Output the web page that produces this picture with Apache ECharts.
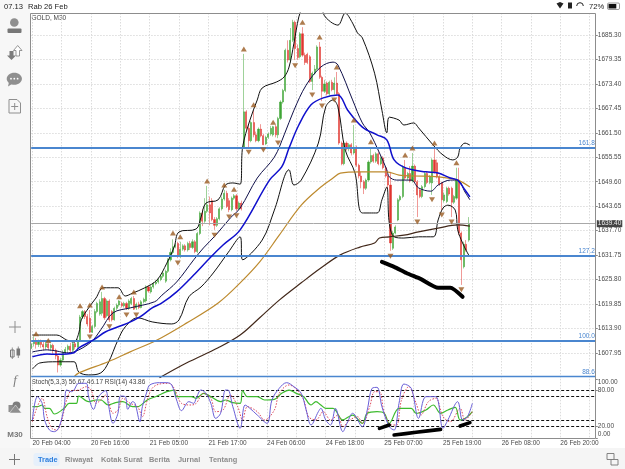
<!DOCTYPE html>
<html>
<head>
<meta charset="utf-8">
<title>GOLD M30</title>
<script src="https://cdn.jsdelivr.net/npm/echarts@6/dist/echarts.min.js"></script>
<style>html,body{margin:0;padding:0;background:#fff}#c{width:625px;height:469px}</style>
</head>
<body>
<div id="c"></div>
<script>
// GOLD, M30 bars: [open, close, low, high]
const candles = [
[1609.0,1610.2,1608.5,1610.8],[1610.2,1611.0,1609.5,1612.0],[1611.0,1610.0,1609.0,1611.6],[1610.0,1610.8,1609.4,1611.2],
[1610.8,1610.0,1609.2,1611.2],[1610.0,1609.4,1608.6,1610.6],[1609.4,1610.2,1608.8,1610.6],[1610.2,1609.2,1608.6,1610.4],
[1609.2,1609.8,1608.4,1610.2],[1609.8,1608.6,1607.8,1610.2],[1608.6,1607.2,1606.4,1609.0],[1607.2,1605.0,1603.2,1607.6],
[1605.0,1606.2,1604.6,1606.8],[1606.2,1608.0,1605.8,1608.6],[1608.0,1608.8,1607.6,1609.4],[1608.8,1609.6,1608.2,1610.0],
[1609.6,1608.6,1608.0,1610.4],[1608.6,1610.2,1608.2,1610.8],[1610.2,1609.4,1608.8,1610.6],[1609.4,1611.0,1609.0,1611.4],
[1611.0,1616.7,1610.6,1617.2],[1616.7,1618.0,1616.2,1618.4],[1618.0,1616.8,1616.2,1618.4],[1616.8,1615.0,1614.4,1617.4],
[1616.4,1613.0,1612.8,1618.4],[1613.0,1614.4,1612.8,1614.8],[1614.4,1618.0,1614.0,1618.6],[1618.0,1620.0,1617.6,1620.4],
[1617.4,1620.4,1617.0,1621.0],[1617.6,1621.2,1617.0,1622.8],[1621.2,1616.5,1616.0,1621.6],[1617.0,1620.6,1616.6,1621.0],
[1620.6,1616.0,1615.5,1621.0],[1618.0,1616.0,1615.6,1618.4],[1616.0,1618.8,1615.8,1619.2],[1618.8,1619.6,1618.4,1620.0],
[1619.6,1620.6,1619.2,1620.8],[1620.0,1619.4,1619.0,1620.4],[1619.4,1620.0,1619.0,1620.4],[1620.0,1618.8,1618.4,1620.4],
[1618.8,1620.6,1618.4,1621.0],[1620.0,1621.2,1619.6,1621.6],[1621.2,1618.6,1618.4,1621.8],[1618.9,1619.8,1618.4,1620.2],
[1619.8,1619.0,1618.6,1620.4],[1619.0,1620.4,1618.8,1620.8],[1620.4,1621.0,1620.0,1621.4],[1620.6,1624.0,1620.2,1624.4],
[1624.0,1623.0,1622.6,1624.4],[1622.8,1624.0,1622.4,1624.4],[1624.0,1624.8,1623.6,1625.2],[1624.8,1625.2,1624.4,1625.6],
[1625.2,1625.8,1624.8,1626.2],[1625.8,1626.6,1625.4,1627.0],[1626.6,1627.4,1626.2,1627.8],[1625.4,1627.8,1625.0,1628.2],
[1627.8,1630.6,1627.4,1631.0],[1630.6,1632.4,1630.2,1633.4],[1632.4,1633.8,1632.0,1635.6],[1633.8,1634.2,1633.4,1634.6],
[1634.6,1631.6,1631.0,1635.0],[1631.6,1633.2,1631.0,1635.0],[1633.2,1634.0,1632.8,1634.4],[1634.0,1633.0,1632.6,1634.4],
[1633.0,1634.6,1632.6,1635.0],[1634.6,1633.6,1633.0,1635.2],[1633.6,1635.0,1633.2,1635.6],[1635.0,1632.6,1632.2,1635.4],
[1632.6,1637.0,1632.2,1637.4],[1637.0,1642.0,1636.6,1642.4],[1642.0,1640.0,1638.8,1643.0],[1640.0,1642.4,1639.6,1645.6],
[1642.4,1644.0,1642.0,1648.6],[1644.0,1642.0,1639.0,1646.0],[1645.0,1640.4,1640.0,1645.6],[1640.4,1639.0,1637.9,1641.0],
[1639.0,1640.6,1638.6,1641.0],[1640.6,1643.0,1640.2,1643.4],[1643.0,1645.4,1642.6,1646.0],[1645.4,1646.8,1645.0,1647.6],
[1646.8,1643.6,1643.2,1647.4],[1645.0,1642.8,1642.2,1645.6],[1642.8,1645.6,1642.4,1646.0],[1645.6,1646.2,1645.2,1646.6],
[1646.2,1643.0,1642.5,1646.6],[1643.0,1644.4,1642.6,1644.8],[1644.4,1643.0,1642.6,1645.0],[1658.0,1666.6,1657.6,1680.7],
[1666.6,1662.6,1662.0,1667.0],[1662.6,1659.6,1658.0,1663.4],[1659.6,1664.0,1659.2,1664.4],[1664.0,1661.0,1660.4,1667.0],
[1661.0,1659.6,1659.2,1661.8],[1659.6,1662.4,1659.2,1662.8],[1662.4,1660.8,1660.4,1663.6],[1660.8,1658.6,1658.5,1661.2],
[1658.8,1660.4,1658.5,1660.8],[1660.4,1661.2,1660.0,1661.6],[1661.2,1662.6,1660.8,1663.2],[1661.0,1663.0,1660.6,1663.2],
[1663.0,1661.0,1660.4,1663.4],[1661.0,1665.0,1660.2,1665.4],[1665.0,1669.0,1664.6,1669.4],[1669.0,1671.8,1668.6,1672.2],
[1671.8,1681.6,1671.4,1682.0],[1681.6,1679.2,1678.6,1684.0],[1679.2,1684.0,1678.6,1687.0],[1684.0,1688.4,1683.6,1689.0],
[1688.4,1682.0,1679.2,1688.8],[1682.0,1679.8,1679.2,1683.0],[1680.0,1685.6,1679.6,1686.0],[1685.6,1680.4,1680.0,1687.2],
[1680.4,1678.6,1678.0,1681.0],[1680.6,1678.6,1678.2,1681.0],[1680.0,1674.0,1673.6,1680.4],[1674.0,1676.0,1671.9,1676.4],
[1676.0,1677.0,1675.6,1678.0],[1677.0,1682.4,1676.6,1682.8],[1682.4,1675.0,1674.6,1683.6],[1675.0,1671.6,1669.2,1675.4],
[1671.6,1673.4,1671.2,1674.4],[1673.6,1671.0,1670.6,1674.0],[1671.0,1673.8,1670.6,1674.2],[1673.8,1672.0,1671.6,1674.4],
[1672.0,1673.6,1670.8,1675.0],[1673.6,1671.0,1670.6,1676.3],[1671.0,1659.0,1658.6,1671.4],[1659.0,1654.0,1653.6,1659.4],
[1654.0,1659.0,1653.6,1659.4],[1659.0,1657.6,1657.2,1659.4],[1657.6,1658.6,1657.0,1659.0],[1658.6,1656.6,1656.0,1659.0],
[1656.6,1658.0,1656.2,1663.4],[1658.0,1653.6,1653.2,1658.4],[1653.6,1651.0,1650.4,1654.0],[1651.0,1649.6,1648.0,1652.0],
[1649.6,1648.0,1646.6,1650.0],[1648.0,1650.0,1647.6,1650.4],[1650.0,1654.4,1649.6,1654.8],[1654.4,1656.0,1654.0,1658.0],
[1656.0,1654.6,1654.2,1656.4],[1654.6,1656.4,1654.2,1656.8],[1656.4,1654.0,1653.6,1656.8],[1654.0,1655.4,1653.6,1655.8],
[1655.4,1653.0,1652.6,1655.8],[1653.0,1651.0,1650.6,1653.4],[1651.0,1648.8,1647.4,1651.4],[1648.8,1634.7,1632.8,1652.0],
[1633.4,1637.1,1633.0,1637.6],[1637.1,1638.6,1636.8,1639.0],[1640.3,1645.2,1640.0,1645.6],[1645.2,1646.0,1644.8,1646.4],
[1646.0,1653.2,1645.6,1653.6],[1653.0,1650.5,1650.0,1654.9],[1650.5,1651.6,1650.0,1652.0],[1651.6,1649.8,1649.4,1653.4],
[1649.8,1653.4,1649.4,1656.6],[1653.4,1649.6,1649.2,1653.8],[1649.6,1646.4,1641.0,1650.0],[1647.6,1646.0,1645.6,1648.0],
[1646.0,1648.4,1645.6,1648.8],[1648.4,1651.6,1648.0,1652.0],[1651.6,1649.4,1649.0,1652.0],[1649.4,1650.8,1649.0,1651.2],
[1649.3,1654.9,1646.4,1655.3],[1654.9,1652.0,1651.6,1657.8],[1654.2,1650.8,1650.4,1655.0],[1650.8,1649.0,1648.6,1651.2],
[1649.3,1645.2,1642.7,1649.6],[1645.0,1646.4,1644.6,1647.0],[1644.8,1648.0,1644.4,1648.4],[1648.0,1646.6,1646.2,1648.4],
[1648.0,1644.6,1641.0,1648.4],[1644.6,1646.0,1644.2,1646.4],[1645.6,1650.0,1645.2,1653.0],[1650.0,1637.1,1636.6,1653.0],
[1637.1,1630.6,1624.5,1637.5],[1628.9,1634.4,1628.5,1635.0],[1634.4,1633.0,1632.6,1635.4],[1635.4,1639.4,1635.0,1641.0]
];

// Williams fractals, as [bar, price]
const fractalsUp = [[2,1612.6],[7,1611.0],[20,1619.4],[24,1619.6],[29,1624.0],[36,1621.6],[42,1622.8],[58,1637.1],[61,1636.2],[72,1649.8],[79,1648.8],[83,1647.8],[87,1681.9],[91,1668.3],[99,1664.1],[111,1688.4],[118,1684.8],[125,1677.5],[132,1664.6],[139,1659.3],[153,1656.1],[156,1657.8],[165,1659.0],[174,1654.2]];
const fractalsDown = [[24,1611.8],[32,1614.3],[39,1617.2],[43,1617.2],[60,1629.8],[75,1636.6],[81,1641.0],[84,1641.3],[89,1656.8],[95,1657.3],[101,1659.0],[108,1677.8],[115,1670.7],[119,1668.0],[124,1669.5],[147,1631.5],[158,1639.8],[164,1645.2],[168,1641.5],[172,1639.8],[176,1623.3]];

// Bollinger bands and moving averages, read at turning points as [bar, price]
const upperBand = [[0,1612.3],[10,1612.3],[14,1611.1],[17,1610.6],[19,1612.8],[20,1616],[23,1618.9],[26,1621.3],[29,1623.8],[35,1623.8],[38,1621.8],[41,1622.5],[46,1623.8],[51,1625.7],[55,1629.8],[58,1633.7],[60,1637.4],[67,1638.1],[69,1641],[71,1644.4],[76,1645.2],[79,1648.8],[82,1649.3],[85,1649],[86,1658],[89,1664.6],[92,1669.5],[94,1672.4],[100,1673.9],[103,1675.1],[105,1677.5],[107,1683.3],[109,1689.7],[111,1693.3],[113,1698],[116,1700],[119,1690.6],[122,1688.5],[125,1687.7],[128,1690.6],[131,1688.2],[133,1685.8],[135,1684.6],[140,1676],[143,1667],[145,1661.5],[146,1665.3],[150,1664.6],[152,1663.4],[156,1663.9],[158,1662.7],[164,1658.5],[168,1656.1],[172,1654.9],[174,1655.6],[175,1657.8],[177,1659],[179,1658.5]];
const middleBand = [[0,1608.2],[6,1608.7],[10,1608.4],[14,1608],[17,1608.2],[24,1610.6],[28,1613.6],[33,1617.7],[40,1618.9],[50,1620.4],[53,1622],[59,1625.2],[66,1630.6],[70,1633.5],[75,1636.6],[81,1640.8],[85,1643.2],[92,1650.5],[99,1655.6],[103,1661],[107,1667],[112,1673.1],[118,1677.5],[123,1678.7],[125,1678],[131,1669.5],[135,1663.9],[138,1661.5],[142,1656.6],[145,1652.5],[146,1650.8],[149,1650],[155,1650],[158,1648.1],[163,1647.3],[166,1648.8],[171,1650],[174,1650],[177,1647.1],[179,1645.2]];
const lowerBand = [[0,1604],[3,1605.5],[10,1605.8],[17,1605.8],[19,1603.3],[23,1602.6],[28,1603.1],[31,1605.5],[35,1611.1],[38,1614.3],[43,1616.5],[49,1615.5],[57,1615],[60,1616],[64,1621.6],[69,1624],[74,1627.4],[80,1632.3],[85,1636.2],[86,1630.6],[94,1635.4],[99,1642.7],[105,1652.5],[107,1648.8],[110,1650],[117,1659],[120,1667.8],[123,1669.5],[125,1667.8],[128,1657.3],[132,1651.7],[135,1642],[141,1642],[143,1645.2],[145,1648.3],[146,1639.6],[148,1636.2],[152,1635.9],[158,1636.2],[164,1636.2],[166,1640.3],[168,1643.2],[170,1643.9],[173,1642.7],[174,1637.9],[176,1634.7],[178,1632.3],[179,1631.3]];
const fastMa = [[0,1607],[6,1607.7],[10,1607.6],[17,1608],[19,1609.2],[25,1611.1],[30,1613.1],[39,1615.2],[44,1616.7],[49,1618.9],[53,1620.1],[59,1622.8],[66,1626.9],[73,1631.3],[78,1634.2],[85,1637.9],[97,1650],[102,1653.2],[105,1657.8],[109,1663.4],[114,1668.3],[119,1670],[125,1670.7],[129,1667],[135,1662.9],[141,1661],[145,1659.8],[148,1654.9],[153,1652.9],[161,1652],[166,1651.7],[171,1650.5],[174,1650],[177,1647.6],[179,1645.9]];
const midMa = [[17,1602.1],[19,1603.1],[31,1605.8],[40,1608.2],[51,1611.1],[63,1615.2],[76,1620.1],[85,1625],[93,1630.1],[101,1636.6],[110,1643.9],[118,1648.3],[123,1650.5],[126,1651.7],[134,1652],[145,1652],[150,1651.2],[156,1651],[166,1650.8],[174,1650],[179,1648.3]];
const slowMa = [[52,1601.9],[63,1605.5],[76,1609.2],[85,1612.3],[93,1616.5],[101,1620.8],[110,1625],[118,1628.6],[126,1631.8],[134,1633.7],[140,1634.7],[142,1635.9],[146,1636.2],[152,1636.6],[158,1637.4],[166,1638.3],[174,1639.1],[179,1638.8]];

// Oscillator window, read as [bar, value]
const stochK = [[0,30.6],[2,69.9],[4,58.7],[5,30.7],[7,13.8],[9,11],[11,19.4],[13,53.1],[14,81.1],[16,78.3],[17,81.1],[19,92.4],[22,92.4],[23,69.9],[25,48.6],[27,69.9],[30,80],[31,58.7],[33,25],[35,41.9],[36,71],[38,69.9],[39,48.6],[41,61.5],[42,58.7],[44,27.8],[45,53.1],[47,80],[48,89.6],[52,93.5],[55,93.5],[57,89.6],[59,64.3],[61,46.4],[64,61.5],[66,58.7],[67,67.1],[69,81.1],[71,75.5],[73,58.7],[75,33.4],[77,41.9],[79,81.1],[80,81.1],[82,53.1],[85,16.6],[87,55.9],[89,50.3],[92,39],[96,25],[98,64.3],[101,84],[104,93.5],[107,86.7],[110,75.5],[112,47.5],[114,22.2],[117,44.7],[118,50.3],[120,30.7],[122,22.2],[124,50.3],[127,11],[129,27.8],[131,41.9],[135,19.4],[137,47.5],[139,84],[141,85.6],[143,53.1],[146,19.4],[148,13.8],[150,58.7],[152,91.2],[155,84],[158,33.4],[161,69.9],[165,69.9],[168,16.6],[170,30.7],[174,61.5],[176,30.7],[178,36.3],[180,58.7]];
const stochD = [[0,27.8],[2,53.1],[4,67.1],[6,36.3],[8,16.6],[10,13.8],[12,30.7],[14,64.3],[16,80],[19,81.1],[22,86.7],[24,81.1],[26,58.7],[28,64.3],[30,72.7],[33,41.9],[35,47.5],[37,67.1],[40,58.7],[43,53.1],[45,36.3],[47,64.3],[49,84],[52,91.2],[56,92.4],[58,84],[61,58.7],[65,55.9],[67,58.7],[70,75.5],[73,67.1],[75,44.7],[78,47.5],[81,72.7],[84,53.1],[86,30.7],[88,53.1],[92,44.7],[95,30.7],[99,47.5],[101,75.5],[105,89.6],[108,82.3],[111,64.3],[113,36.3],[116,30.7],[119,44.7],[122,30.7],[125,39],[127,19.4],[130,30.7],[133,36.3],[135,25],[138,53.1],[140,78.3],[142,78.3],[144,41.9],[147,22.2],[149,22.2],[151,64.3],[154,86.7],[157,58.7],[159,39],[162,61.5],[165,67.1],[168,36.3],[171,27.8],[175,50.3],[177,30.7],[180,44.7]];
const rsi = [[0,53.1],[2,53.1],[4,55.9],[5,50.3],[7,50.3],[9,40.7],[13,50.3],[15,58.7],[18,58.7],[19,71],[23,61.5],[26,64.3],[28,64.3],[31,55.9],[34,59.8],[37,61.5],[41,53.1],[43,53.1],[47,64.3],[51,71],[55,78.3],[58,81.1],[59,69.9],[65,69.9],[67,67.1],[70,75.5],[73,69.9],[77,61.5],[79,64.3],[82,59.8],[85,58.7],[86,80],[88,69.9],[92,69.9],[95,64.3],[99,65.4],[102,75.5],[105,81.1],[108,75.5],[111,69.9],[114,55.9],[116,61.5],[118,55.9],[120,50.3],[123,50.3],[127,30.7],[131,39],[135,25],[137,41.9],[141,44.7],[144,41.9],[146,25],[150,50.3],[155,50.3],[157,41.9],[161,47.5],[164,55.9],[167,41.9],[170,47.5],[173,52],[175,30.7],[178,36.3],[180,44.7]];

// Marker strokes added by hand over the chart
const markerPrice = [[143,1630.1],[148,1628.9],[153,1627.4],[159,1625.9],[166,1623.8],[171,1623.8],[176,1621.6]];
const markerOscA = [[142,16.6],[146,22.2]];
const markerOscB = [[148,5.4],[157,9.9],[167,14.9]];
const markerOscC = [[175,20.5],[179,26.2]];

const priceTicks = [1685.30,1679.35,1673.40,1667.45,1661.50,1655.55,1649.60,1643.65,1637.70,1631.75,1625.80,1619.85,1613.90,1607.95];
const oscTicks = [0,20,80,100];
const oscLevels = [80,70,30,20];
const timeTicks = ['20 Feb 04:00','20 Feb 16:00','21 Feb 05:00','21 Feb 17:00','24 Feb 06:00','24 Feb 18:00','25 Feb 07:00','25 Feb 19:00','26 Feb 08:00','26 Feb 20:00'];
const fibLevels = [['161.8',1657.93],['127.2',1631.54],['100.0',1611.0],['88.6',1602.2]];
const lastPrice = 1639.40;

const BARS_PER_LABEL = 24;
const SLOTS = 231;
const slotNames = Array.from({length: SLOTS}, (_, i) =>
  i % BARS_PER_LABEL === 0 ? (timeTicks[i / BARS_PER_LABEL] || '') : String(i));
const barNames = Array.from({length: SLOTS + 1}, (_, i) => String(i));

const FONT = '"Liberation Sans", Arial, sans-serif';
const AXIS_TEXT = '#4a4a4a';
const GRID_LINE = {show: true, lineStyle: {color: '#dcdcdc', type: [1.5, 1.5], width: 1}};

const bandLine = (data, color, width, z) => ({
  type: 'line', xAxisIndex: 0, yAxisIndex: 0, data, showSymbol: false, smooth: 0.35, silent: true, z: z || 4,
  lineStyle: {color, width}
});
const oscLine = (data, color, width, type, z) => ({
  type: 'line', xAxisIndex: 2, yAxisIndex: 1, data, showSymbol: false, smooth: 0.35, silent: true, z: z || 4,
  lineStyle: {color, width, type}
});
const marker = (xi, yi, data, width) => ({
  type: 'line', xAxisIndex: xi, yAxisIndex: yi, data, showSymbol: false, silent: true, z: 9, smooth: 0.2,
  lineStyle: {color: '#000', width, cap: 'round', join: 'round'}
});
const fractal = (data, rotate) => ({
  type: 'scatter', xAxisIndex: 1, yAxisIndex: 0, data, symbol: 'triangle', symbolSize: [6, 5], symbolRotate: rotate,
  silent: true, z: 7, itemStyle: {color: '#9a5b22'}
});

// Left tool rail, bottom tabs and status bar
const grey = '#8f8f8f';
const txt = (x, y, text, fontSize, fill, extra) => ({type: 'text', x, y, silent: true,
  style: Object.assign({text, fontSize, fill, fontFamily: FONT, textVerticalAlign: 'middle'}, extra || {})});
const chrome = [
  {type: 'rect', silent: true, z: -2, shape: {x: 0, y: 0, width: 30, height: 469}, style: {fill: '#f7f7f7'}},
  {type: 'rect', silent: true, z: -2, shape: {x: 0, y: 448, width: 625, height: 21}, style: {fill: '#f5f5f5'}},
  {type: 'polyline', silent: true, z: 8, shape: {points: [[30.5, 438.5], [30.5, 13.5], [595.5, 13.5], [595.5, 438.5], [30.5, 438.5]]}, style: {stroke: '#8d8d8d', fill: 'none', lineWidth: 1}},

  txt(4, 6.5, '07.13', 7.6, '#222'), txt(28, 6.5, 'Rab 26 Feb', 7.6, '#222'),
  txt(589, 6.5, '72%', 7.6, '#222'),
  {type: 'polygon', silent: true, shape: {points: [[556.5, 3.5], [560, 2], [563.5, 3.5], [560, 8.5]]}, style: {fill: '#222'}},
  {type: 'rect', silent: true, shape: {x: 568, y: 2.5, width: 4, height: 6}, style: {fill: '#222'}},
  {type: 'arc', silent: true, shape: {cx: 580, cy: 6, r: 3.3, startAngle: Math.PI, endAngle: 0}, style: {stroke: '#222', fill: 'none', lineWidth: 1}},
  {type: 'rect', silent: true, shape: {x: 607.5, y: 3, width: 12, height: 6.5, r: 1.3}, style: {stroke: '#555', fill: 'none', lineWidth: .6}},
  {type: 'rect', silent: true, shape: {x: 608.5, y: 4, width: 7.8, height: 4.5}, style: {fill: '#111'}},

  {type: 'circle', silent: true, shape: {cx: 14.3, cy: 22.5, r: 4.3}, style: {fill: grey}},
  {type: 'rect', silent: true, shape: {x: 7.5, y: 28.5, width: 14, height: 4.5, r: 1}, style: {fill: '#777'}},
  {type: 'polygon', silent: true, shape: {points: [[9.5, 51], [13.5, 51], [13.5, 55.5], [16, 55.5], [11.5, 60], [7, 55.5], [9.5, 55.5]]}, style: {fill: '#7d7d7d'}},
  {type: 'polygon', silent: true, shape: {points: [[16, 56], [19.5, 56], [19.5, 50.5], [22, 50.5], [17.7, 45.5], [13.5, 50.5], [16, 50.5]]}, style: {fill: '#fff', stroke: '#7d7d7d', lineWidth: .8}},
  {type: 'ellipse', silent: true, shape: {cx: 14.3, cy: 78.7, rx: 7.6, ry: 6}, style: {fill: grey}},
  {type: 'polygon', silent: true, shape: {points: [[9, 82], [12, 84], [8, 86.5]]}, style: {fill: grey}},
  {type: 'circle', silent: true, shape: {cx: 11, cy: 78.7, r: .9}, style: {fill: '#fff'}},
  {type: 'circle', silent: true, shape: {cx: 14.3, cy: 78.7, r: .9}, style: {fill: '#fff'}},
  {type: 'circle', silent: true, shape: {cx: 17.6, cy: 78.7, r: .9}, style: {fill: '#fff'}},
  {type: 'polygon', silent: true, shape: {points: [[9, 99.5], [17, 99.5], [20.5, 103], [20.5, 113], [9, 113]]}, style: {fill: '#f7f7f7', stroke: grey, lineWidth: 1}},
  {type: 'line', silent: true, shape: {x1: 14.7, y1: 103, x2: 14.7, y2: 110}, style: {stroke: grey, lineWidth: 1}},
  {type: 'line', silent: true, shape: {x1: 11.2, y1: 106.5, x2: 18.2, y2: 106.5}, style: {stroke: grey, lineWidth: 1}},

  {type: 'line', silent: true, shape: {x1: 15, y1: 321, x2: 15, y2: 333}, style: {stroke: grey, lineWidth: 1}},
  {type: 'line', silent: true, shape: {x1: 9, y1: 327, x2: 21, y2: 327}, style: {stroke: grey, lineWidth: 1}},
  {type: 'rect', silent: true, shape: {x: 10.5, y: 350, width: 3.6, height: 7}, style: {fill: '#f7f7f7', stroke: '#777', lineWidth: 1}},
  {type: 'line', silent: true, shape: {x1: 12.3, y1: 347.5, x2: 12.3, y2: 359}, style: {stroke: '#777', lineWidth: .8}},
  {type: 'rect', silent: true, shape: {x: 16.5, y: 348.5, width: 3.6, height: 7}, style: {fill: '#777'}},
  {type: 'line', silent: true, shape: {x1: 18.3, y1: 346.5, x2: 18.3, y2: 358}, style: {stroke: '#777', lineWidth: .8}},
  txt(15, 381, 'f', 13, '#7d7d7d', {textAlign: 'center', fontFamily: '"Liberation Serif", serif', fontStyle: 'italic'}),
  {type: 'polygon', silent: true, shape: {points: [[8.5, 405], [14, 405], [14, 412], [8.5, 412]]}, style: {fill: grey}},
  {type: 'circle', silent: true, shape: {cx: 16.5, cy: 405.5, r: 4}, style: {fill: '#7d7d7d'}},
  {type: 'polygon', silent: true, shape: {points: [[15.5, 405], [21.5, 413], [9.5, 413]]}, style: {fill: '#8f8f8f', stroke: '#f7f7f7', lineWidth: .5}},
  txt(15, 434.5, 'M30', 8, '#777', {textAlign: 'center', fontWeight: 'bold'}),

  {type: 'line', silent: true, shape: {x1: 14.5, y1: 454, x2: 14.5, y2: 465}, style: {stroke: '#777', lineWidth: 1}},
  {type: 'line', silent: true, shape: {x1: 9, y1: 459.5, x2: 20, y2: 459.5}, style: {stroke: '#777', lineWidth: 1}},
  {type: 'rect', silent: true, shape: {x: 33.5, y: 453, width: 26, height: 13, r: 3}, style: {fill: '#e6f0fb'}},
  txt(38, 459.5, 'Trade', 7.4, '#2d7fde', {fontWeight: 'bold'}),
  txt(65, 459.5, 'Riwayat', 7.4, '#8d8d8d', {fontWeight: 'bold'}),
  txt(101, 459.5, 'Kotak Surat', 7.4, '#8d8d8d', {fontWeight: 'bold'}),
  txt(149, 459.5, 'Berita', 7.4, '#8d8d8d', {fontWeight: 'bold'}),
  txt(178, 459.5, 'Jurnal', 7.4, '#8d8d8d', {fontWeight: 'bold'}),
  txt(209, 459.5, 'Tentang', 7.4, '#8d8d8d', {fontWeight: 'bold'}),
  {type: 'rect', silent: true, shape: {x: 607, y: 453.5, width: 7, height: 6}, style: {fill: 'none', stroke: '#777', lineWidth: .9}},
  {type: 'rect', silent: true, shape: {x: 611, y: 459.5, width: 7, height: 5.5}, style: {fill: '#f5f5f5', stroke: '#777', lineWidth: .9}},

  txt(31.5, 382, 'Stoch(5,3,3) 56.67 46.17 RSI(14) 43.86', 6.5, '#444'),
  txt(31.5, 18, 'GOLD, M30', 6.5, '#444')
];

const chart = echarts.init(document.getElementById('c'), null, {renderer: 'canvas'});
chart.setOption({
  animation: false,
  backgroundColor: '#fff',
  textStyle: {fontFamily: FONT},
  grid: [
    {left: 31.18, top: 13, width: 564.6, height: 365},
    {left: 31.18, top: 378.8, width: 564.6, height: 59.4}
  ],
  graphic: chrome,
  xAxis: [
    {type: 'category', gridIndex: 0, data: slotNames, boundaryGap: true,
      axisLine: {show: false}, axisTick: {show: false}, axisLabel: {show: false},
      splitLine: Object.assign({interval: (i) => i % 12 === 0, alignWithLabel: true}, GRID_LINE)},
    {type: 'category', gridIndex: 0, data: barNames, boundaryGap: false, show: false},
    {type: 'category', gridIndex: 1, data: slotNames, boundaryGap: true,
      axisLine: {show: false}, axisTick: {show: false},
      splitLine: Object.assign({interval: (i) => i % 12 === 0, alignWithLabel: true}, GRID_LINE),
      axisLabel: {interval: (i) => i % BARS_PER_LABEL === 0, align: 'left', fontSize: 6.5, color: AXIS_TEXT, margin: 2, fontFamily: FONT, hideOverlap: false}}
  ],
  yAxis: [
    {type: 'value', gridIndex: 0, position: 'right', min: 1601.85, max: 1690.65, scale: true,
      axisLine: {show: false},
      axisTick: {show: true, length: 2, customValues: priceTicks, lineStyle: {color: '#888'}},
      splitLine: Object.assign({customValues: priceTicks}, GRID_LINE),
      axisLabel: {customValues: priceTicks, formatter: (v) => v.toFixed(2), fontSize: 6.5, color: AXIS_TEXT, margin: 2, fontFamily: FONT}},
    {type: 'value', gridIndex: 1, position: 'right', min: 0, max: 100,
      axisLine: {show: false},
      axisTick: {show: true, length: 2, customValues: oscTicks, lineStyle: {color: '#888'}},
      splitLine: {show: false},
      axisLabel: {customValues: oscTicks, formatter: (v) => v.toFixed(2), fontSize: 6.5, color: AXIS_TEXT, margin: 2, fontFamily: FONT,
        verticalAlignMinLabel: 'bottom', verticalAlignMaxLabel: 'top'}}
  ],
  series: [
    // Fibonacci levels and the current bid
    {type: 'line', xAxisIndex: 0, yAxisIndex: 0, data: [], silent: true, z: 3,
      markLine: {silent: true, symbol: 'none', animation: false,
        data: fibLevels.map(([name, value]) => ({
          yAxis: value, lineStyle: {color: '#4a86cf', width: value < 1603 ? 1.4 : 1.8, type: 'solid'},
          label: {show: true, formatter: name, position: 'insideEndTop', color: '#4a86cf', fontSize: 6.5, distance: 1, fontFamily: FONT}
        })).concat([{
          yAxis: lastPrice, lineStyle: {color: '#a8a8a8', width: 1, type: 'solid'},
          label: {show: true, formatter: lastPrice.toFixed(2), position: 'end', color: '#eee', fontSize: 6.5, distance: 1,
            backgroundColor: '#444', padding: [0, 1], fontFamily: FONT}
        }])}},
    {type: 'candlestick', xAxisIndex: 1, yAxisIndex: 0, data: candles, barWidth: 1.6, silent: true, z: 3,
      itemStyle: {color: '#3fa535', color0: '#e0352f', borderColor: '#3fa535', borderColor0: '#e0352f', borderWidth: .5}},
    bandLine(upperBand, '#111', 1),
    bandLine(middleBand, '#10104a', 1),
    bandLine(lowerBand, '#111', 1),
    bandLine(midMa, '#bd8a2e', 1.2),
    bandLine(slowMa, '#42281a', 1.2),
    bandLine(fastMa, '#1010cc', 1.5, 5),
    fractal(fractalsUp, 0),
    fractal(fractalsDown, 180),
    marker(0, 0, markerPrice, 4),

    // Oscillator window
    {type: 'line', xAxisIndex: 2, yAxisIndex: 1, data: [], silent: true, z: 3,
      markLine: {silent: true, symbol: 'none', animation: false, label: {show: false},
        data: oscLevels.map((value) => ({yAxis: value, lineStyle: {color: '#111', width: 1, type: [3, 2]}}))}},
    oscLine(rsi, '#3dbb2e', 1.2, 'solid', 5),
    oscLine(stochD, '#d8344a', .9, [1.5, 1.5], 5),
    oscLine(stochK, '#6a5fd8', 1, 'solid', 6),
    marker(2, 1, markerOscA, 3.6),
    marker(2, 1, markerOscB, 3.6),
    marker(2, 1, markerOscC, 3.6)
  ]
});
</script>
</body>
</html>
